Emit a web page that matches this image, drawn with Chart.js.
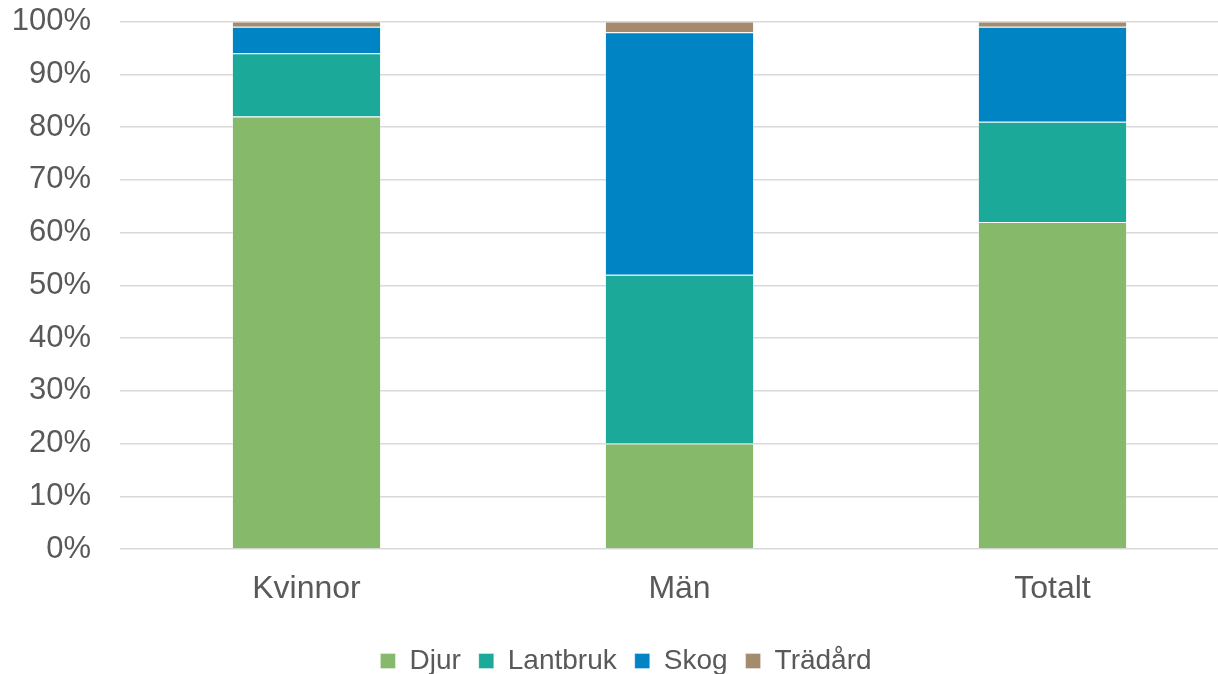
<!DOCTYPE html>
<html>
<head>
<meta charset="utf-8">
<script src="https://cdn.jsdelivr.net/npm/chart.js@4/dist/chart.umd.min.js"></script>
<style>
  html, body { margin: 0; padding: 0; background: #fff; overflow: hidden; }
  /* the original plot is cropped at the top and right edge, so the canvas overhangs the window */
  #wrap { width: 1240px; height: 711px; margin-top: -26px; }
</style>
</head>
<body>
<div id="wrap"><canvas id="chart"></canvas></div>
<script>
const categories = ['Kvinnor', 'Män', 'Totalt'];
const djur = [82, 20, 62];
const lantbruk = [12, 32, 19];
const skog = [5, 46, 18];
const tradard = [1, 2, 1];
const yTicks = [0, 10, 20, 30, 40, 50, 60, 70, 80, 90, 100];

const textColor = '#595959';
const font = 'Liberation Sans, Arial, sans-serif';

function series(label, data, color) {
  return {
    label,
    data,
    backgroundColor: color,
    borderColor: 'rgba(255,255,255,0.35)',
    borderWidth: 1,
    categoryPercentage: 0.4,
    barPercentage: 1,
  };
}

new Chart(document.getElementById('chart').getContext('2d'), {
  type: 'bar',
  data: {
    labels: categories,
    datasets: [
      series('Djur', djur, '#86B96A'),
      series('Lantbruk', lantbruk, '#1BA99A'),
      series('Skog', skog, '#0084C4'),
      series('Trädård', tradard, '#A58B6E'),
    ],
  },
  options: {
    responsive: true,
    maintainAspectRatio: false,
    animation: false,
    layout: { padding: { left: 13, right: 1, top: 0, bottom: 0 } },
    plugins: {
      tooltip: { enabled: false },
      legend: {
        position: 'bottom',
        labels: {
          color: textColor,
          font: { family: font, size: 28 },
          boxWidth: 15,
          boxHeight: 15,
          padding: 18,
        },
      },
    },
    scales: {
      x: {
        stacked: true,
        grid: { display: false },
        border: { display: false },
        ticks: { color: textColor, font: { family: font, size: 32 }, padding: 13 },
        afterFit: axis => { axis.height = 80; },
      },
      y: {
        stacked: true,
        min: 0,
        max: 100,
        afterBuildTicks: axis => {
          axis.ticks = yTicks.map(v => ({ value: v }));
        },
        afterFit: axis => { axis.width = 107; },
        grid: { color: '#d9d9d9', lineWidth: 1.5, drawTicks: false },
        border: { display: false },
        ticks: {
          color: textColor,
          font: { family: font, size: 31 },
          padding: 29,
          callback: v => v + '%',
        },
      },
    },
  },
});
</script>
</body>
</html>
